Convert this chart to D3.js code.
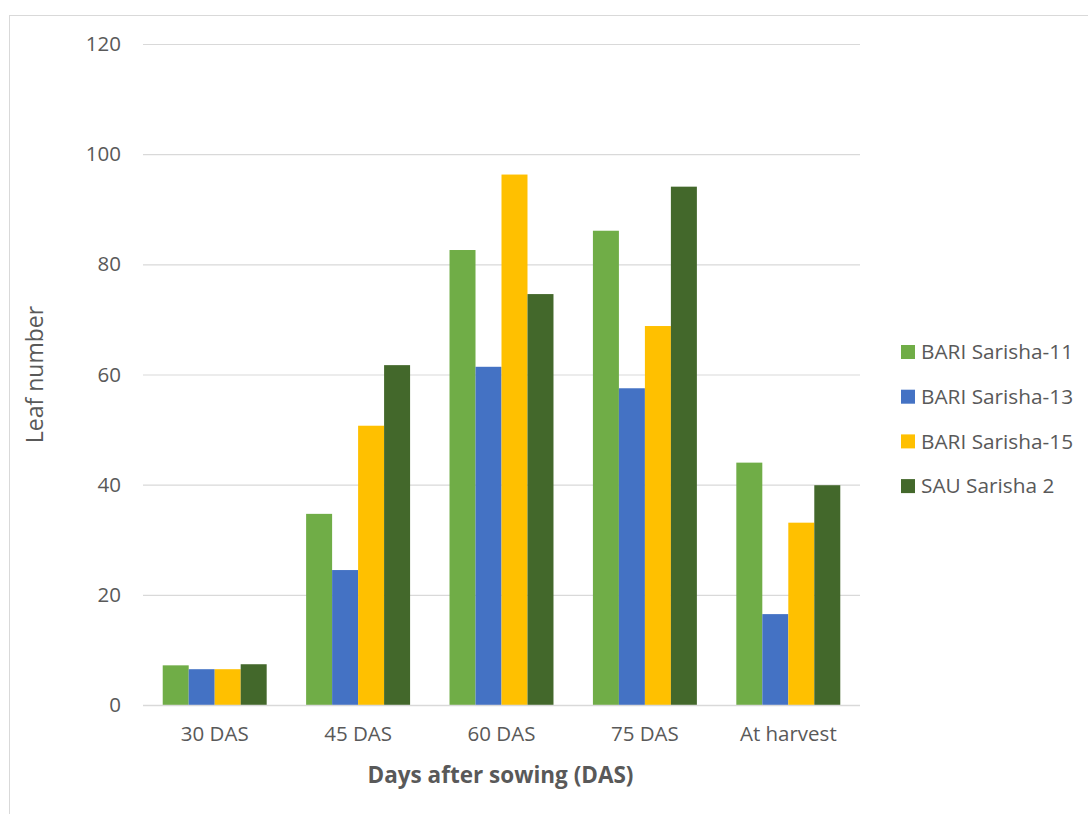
<!DOCTYPE html>
<html>
<head>
<meta charset="utf-8">
<script src="https://cdn.jsdelivr.net/npm/d3@7"></script>
<style>
  html, body { margin: 0; padding: 0; background: #fff; }
  svg { display: block; font-family: "Open Sans", "Noto Sans", sans-serif; }
</style>
</head>
<body>
<svg id="chart" width="1088" height="814"></svg>
<script>
// Leaf number of four mustard varieties at successive growth stages
const categories = ["30 DAS", "45 DAS", "60 DAS", "75 DAS", "At harvest"];
const seriesNames = ["BARI Sarisha-11", "BARI Sarisha-13", "BARI Sarisha-15", "SAU Sarisha 2"];
const bariSarisha11 = [7.2, 34.7, 82.6, 86.1, 44.0];
const bariSarisha13 = [6.5, 24.5, 61.4, 57.5, 16.5];
const bariSarisha15 = [6.5, 50.7, 96.3, 68.8, 33.1];
const sauSarisha2   = [7.4, 61.7, 74.6, 94.1, 39.9];
const yTicks = [0, 20, 40, 60, 80, 100, 120];
const colors = ["#70AD47", "#4472C4", "#FFC000", "#43682B"];

const seriesValues = [bariSarisha11, bariSarisha13, bariSarisha15, sauSarisha2];

const svg = d3.select("#chart");
const W = 1088, H = 814;
const plot = { left: 143, right: 860, top: 44, bottom: 705 };
const textColor = "#595959";
const gridColor = "#d9d9d9";

// chart area frame
svg.append("rect")
  .attr("x", 9.5).attr("y", 15.5)
  .attr("width", W + 10).attr("height", H + 10)
  .attr("fill", "#fff").attr("stroke", gridColor).attr("stroke-width", 1);

const y = d3.scaleLinear().domain([0, 120]).range([plot.bottom, plot.top]);
const x0 = d3.scaleBand().domain(categories)
  .range([plot.left, plot.right])
  .paddingInner(0.275).paddingOuter(0.1375);
const x1 = d3.scaleBand().domain(seriesNames).range([0, x0.bandwidth()]).padding(0);

// horizontal gridlines
const yAxis = d3.axisLeft(y).tickValues(yTicks)
  .tickSize(-(plot.right - plot.left)).tickPadding(22).tickFormat(d3.format("d"));
const gy = svg.append("g").attr("transform", `translate(${plot.left},0)`).call(yAxis);
gy.select(".domain").remove();
gy.selectAll(".tick line").attr("stroke", gridColor).attr("stroke-width", 1.2);
gy.selectAll(".tick text")
  .attr("fill", textColor).attr("font-size", 20.5).attr("font-family", "Open Sans");

// bars
const groups = svg.append("g").selectAll("g")
  .data(categories)
  .join("g")
  .attr("transform", d => `translate(${x0(d)},0)`);

groups.selectAll("rect")
  .data((c, i) => seriesNames.map((s, j) => ({ series: s, value: seriesValues[j][i], k: j })))
  .join("rect")
  .attr("x", d => x1(d.series))
  .attr("width", x1.bandwidth())
  .attr("y", d => y(d.value))
  .attr("height", d => y(0) - y(d.value))
  .attr("fill", d => colors[d.k]);

// baseline
svg.append("line")
  .attr("x1", plot.left).attr("x2", plot.right)
  .attr("y1", y(0) + 0.5).attr("y2", y(0) + 0.5)
  .attr("stroke", gridColor).attr("stroke-width", 1.5);

// category axis labels
const xAxis = d3.axisBottom(x0).tickSize(0).tickPadding(21);
const gx = svg.append("g").attr("transform", `translate(0,${plot.bottom})`).call(xAxis);
gx.select(".domain").remove();
gx.selectAll(".tick text")
  .attr("fill", textColor).attr("font-size", 20.5).attr("font-family", "Open Sans");

// axis titles
svg.append("text")
  .attr("x", (plot.left + plot.right) / 2 - 1).attr("y", 783)
  .attr("text-anchor", "middle")
  .attr("font-size", 22.5).attr("font-weight", "bold").attr("fill", textColor)
  .text("Days after sowing (DAS)");

svg.append("text")
  .attr("transform", `translate(43,${(plot.top + plot.bottom) / 2}) rotate(-90)`)
  .attr("text-anchor", "middle")
  .attr("font-size", 23).attr("fill", textColor)
  .text("Leaf number");

// legend
const legend = svg.append("g").attr("transform", "translate(901,345)");
const li = legend.selectAll("g").data(seriesNames).join("g")
  .attr("transform", (d, i) => `translate(0,${i * 44.7})`);
li.append("rect").attr("width", 14).attr("height", 14)
  .attr("fill", (d, i) => colors[i]);
li.append("text").attr("x", 20).attr("y", 7).attr("dy", "0.35em")
  .attr("font-size", 20.8).attr("fill", textColor)
  .text(d => d);
</script>
</body>
</html>
